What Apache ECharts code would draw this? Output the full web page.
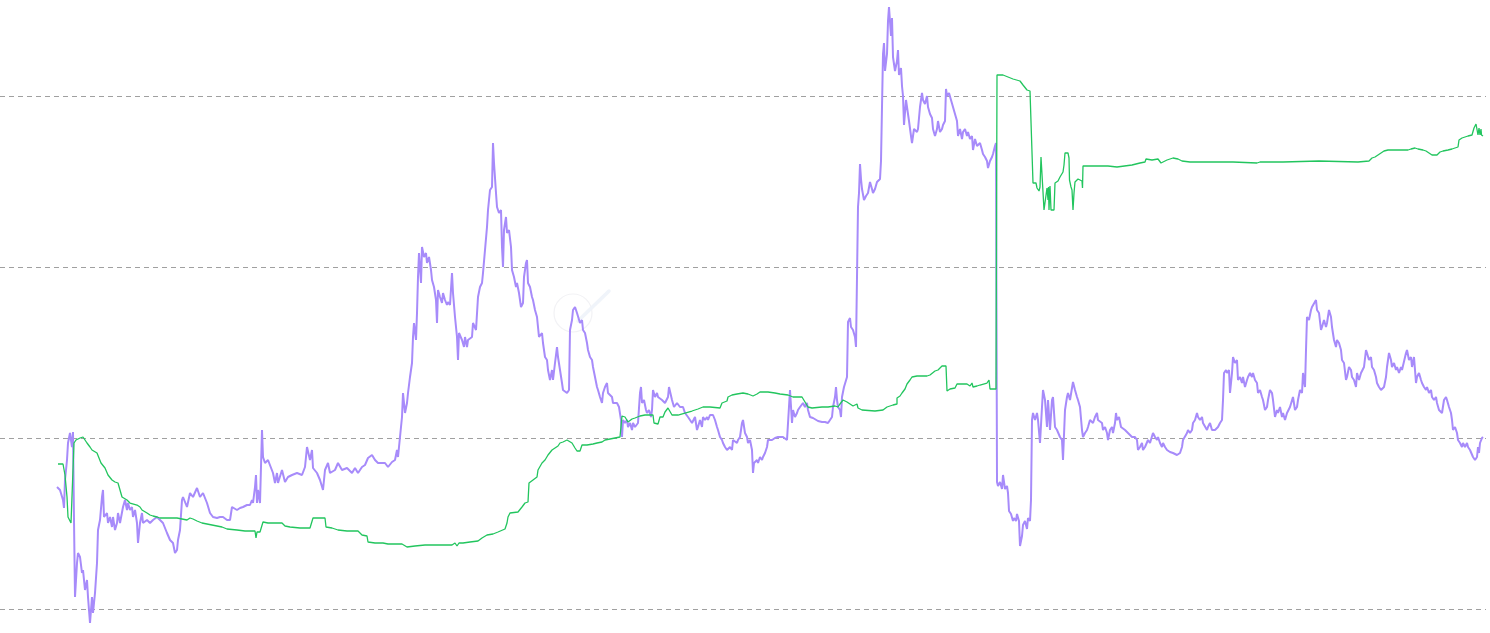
<!DOCTYPE html>
<html>
<head>
<meta charset="utf-8">
<script src="https://cdn.jsdelivr.net/npm/echarts@6/dist/echarts.min.js"></script>
<style>html,body{margin:0;padding:0;background:#fff}#c{width:1490px;height:633px}</style>
</head>
<body>
<div id="c"></div>
<script>
// time index range and y gridline levels
const timeRange = [0, 1486];
const yLevels = [0, 171, 342, 513];

// purple series: [time, value]
const purpleData = [
[57,122],[60,119],[62,121],[63,109],[64,101],[65,129],[67,149],[68,166],[70,176],[72,162],[73,177],[74,89],[75,12],[77,46],[78,56],[80,52],[82,36],[83,39],[85,19],[87,29],[88,12],[90,-14],[92,12],[93,-4],[95,16],[97,46],[98,79],[100,89],[102,112],[103,119],[104,92],[107,96],[108,86],[110,92],[112,82],[113,92],[115,79],[117,86],[118,96],[120,86],[123,102],[125,109],[127,99],[128,106],[130,99],[132,102],[133,92],[135,99],[137,86],[138,66],[140,86],[142,96],[143,86],[147,89],[150,86],[153,89],[157,92],[160,89],[163,86],[167,76],[170,69],[173,66],[175,56],[177,59],[178,69],[180,79],[182,109],[183,112],[187,102],[190,116],[193,112],[197,121],[200,112],[203,116],[207,106],[210,96],[213,92],[217,91],[220,92],[223,92],[227,89],[230,89],[232,102],[233,104],[237,99],[240,101],[243,102],[247,104],[250,104],[252,109],[253,106],[255,122],[256,134],[257,106],[258,119],[260,106],[262,179],[263,152],[265,146],[268,149],[270,149],[273,136],[275,126],[277,136],[278,126],[282,139],[285,127],[288,132],[292,134],[297,136],[302,134],[305,142],[307,162],[308,164],[310,149],[312,159],[313,141],[317,136],[320,129],[323,119],[325,139],[328,146],[330,136],[335,139],[338,146],[342,139],[347,141],[352,136],[355,141],[358,136],[362,142],[365,144],[368,151],[372,154],[375,149],[378,146],[382,146],[385,146],[388,142],[392,147],[395,149],[397,159],[398,152],[400,172],[402,192],[403,216],[405,196],[407,206],[408,216],[410,232],[412,246],[413,272],[414,286],[416,269],[417,296],[418,332],[419,356],[421,326],[422,362],[424,352],[426,356],[427,346],[429,352],[431,339],[432,329],[434,322],[436,309],[437,286],[438,319],[440,312],[442,306],[443,316],[445,309],[447,304],[448,307],[450,304],[452,336],[453,316],[455,292],[457,272],[458,249],[459,276],[462,269],[464,262],[465,272],[467,262],[468,269],[472,272],[473,286],[476,279],[478,312],[480,322],[482,326],[483,336],[485,359],[487,382],[488,399],[490,419],[492,422],[493,466],[494,446],[496,416],[497,402],[499,396],[501,399],[502,362],[503,342],[504,379],[506,392],[507,376],[509,379],[511,362],[512,339],[514,332],[516,322],[517,326],[519,316],[521,302],[523,306],[524,332],[526,346],[527,349],[528,326],[530,322],[532,312],[533,309],[535,299],[537,292],[539,272],[542,276],[543,266],[545,252],[547,249],[548,239],[550,229],[552,239],[553,229],[555,246],[557,262],[558,252],[560,239],[562,226],[563,219],[567,216],[569,219],[570,279],[572,289],[573,299],[575,302],[577,296],[578,296],[580,286],[582,289],[583,279],[585,276],[587,266],[588,259],[590,252],[592,249],[593,242],[595,232],[597,222],[598,219],[600,212],[602,206],[603,216],[605,222],[607,226],[608,216],[610,216],[612,212],[613,206],[617,206],[619,202],[621,189],[622,172],[623,189],[625,186],[627,189],[628,182],[630,186],[632,179],[633,186],[635,182],[637,182],[638,186],[640,216],[641,222],[642,206],[644,209],[646,199],[647,196],[649,199],[651,192],[652,199],[653,219],[655,212],[657,216],[658,212],[660,212],[662,209],[663,209],[665,206],[667,207],[668,212],[669,222],[671,222],[672,209],[674,202],[677,206],[680,202],[683,202],[685,196],[688,192],[690,189],[692,186],[695,192],[697,179],[698,182],[700,189],[702,182],[703,192],[705,189],[707,192],[708,189],[710,194],[712,192],[713,194],[715,189],[717,182],[718,179],[720,172],[722,169],[723,166],[725,162],[727,159],[728,159],[730,162],[732,159],[733,169],[735,167],[737,166],[738,169],[740,172],[742,186],[743,189],[745,176],[747,172],[748,166],[750,169],[752,159],[753,136],[754,146],[757,149],[758,146],[760,152],[762,149],[763,152],[765,156],[767,162],[768,169],[772,169],[775,171],[778,172],[780,174],[783,172],[787,169],[789,167],[790,219],[792,186],[793,199],[795,192],[797,196],[798,199],[800,202],[802,204],[803,206],[805,202],[807,206],[808,199],[810,192],[812,192],[813,191],[815,189],[818,188],[822,187],[825,187],[828,186],[830,189],[832,192],[833,202],[835,212],[836,222],[837,209],[838,202],[840,199],[841,192],[842,212],[844,222],[846,224],[847,232],[848,287],[850,291],[851,282],[853,279],[855,272],[856,262],[857,262],[858,402],[859,416],[860,445],[861,430],[862,420],[864,409],[866,413],[868,416],[870,427],[872,420],[873,416],[875,420],[877,427],[878,427],[880,430],[881,448],[882,502],[883,555],[884,566],[885,538],[887,555],[888,588],[889,602],[891,573],[892,591],[893,552],[895,538],[897,548],[898,559],[899,534],[901,541],[902,523],[903,513],[904,484],[906,509],[907,502],[909,488],[911,473],[912,466],[914,480],[917,477],[918,480],[920,502],[922,516],[923,509],[925,505],[927,513],[928,502],[930,495],[932,491],[933,480],[935,473],[937,480],[938,488],[940,477],[942,480],[943,484],[945,488],[946,520],[947,513],[949,516],[951,509],[953,502],[955,495],[957,488],[958,473],[960,480],[962,470],[963,477],[965,480],[967,473],[968,477],[970,470],[972,473],[973,459],[975,470],[977,463],[978,463],[980,466],[982,459],[983,455],[985,452],[987,448],[988,441],[990,448],[992,452],[993,455],[995,463],[996,466],[997,127],[998,123],[1000,127],[1002,120],[1003,134],[1005,120],[1007,123],[1008,116],[1009,98],[1011,95],[1013,88],[1014,91],[1016,88],[1017,95],[1019,88],[1020,63],[1022,73],[1023,84],[1025,88],[1027,80],[1028,91],[1030,88],[1031,109],[1032,189],[1033,196],[1035,189],[1037,196],[1038,189],[1040,166],[1042,202],[1043,219],[1045,209],[1047,182],[1048,209],[1050,179],[1052,209],[1053,212],[1055,182],[1057,179],[1058,179],[1060,172],[1062,169],[1063,149],[1065,199],[1067,212],[1068,216],[1070,209],[1073,227],[1075,219],[1077,212],[1078,209],[1080,202],[1082,179],[1083,172],[1085,176],[1087,179],[1088,182],[1090,189],[1093,186],[1095,192],[1097,196],[1098,189],[1100,189],[1102,186],[1103,179],[1105,182],[1107,176],[1108,169],[1110,179],[1112,182],[1113,176],[1115,186],[1116,196],[1117,189],[1119,192],[1121,182],[1123,182],[1125,179],[1128,176],[1132,172],[1135,172],[1137,169],[1138,159],[1140,162],[1142,166],[1143,159],[1145,162],[1148,169],[1150,166],[1153,176],[1155,172],[1157,169],[1158,172],[1160,166],[1162,162],[1163,166],[1165,162],[1167,159],[1170,157],[1173,156],[1177,154],[1178,152],[1180,156],[1182,162],[1183,169],[1185,169],[1187,176],[1188,179],[1190,176],[1192,179],[1193,186],[1195,189],[1197,196],[1198,192],[1200,189],[1202,192],[1203,186],[1205,186],[1207,179],[1208,182],[1210,186],[1212,179],[1213,179],[1215,179],[1217,181],[1218,182],[1220,186],[1222,189],[1223,209],[1224,236],[1226,239],[1227,236],[1229,239],[1230,216],[1232,236],[1233,252],[1235,246],[1237,249],[1238,229],[1240,232],[1242,226],[1243,232],[1245,222],[1247,229],[1248,232],[1250,236],[1252,232],[1253,236],[1255,229],[1257,226],[1258,216],[1260,219],[1262,212],[1263,209],[1265,199],[1267,202],[1268,209],[1270,219],[1272,216],[1273,209],[1275,192],[1277,199],[1278,196],[1280,202],[1282,192],[1283,196],[1285,189],[1287,196],[1288,196],[1290,202],[1292,202],[1293,212],[1295,199],[1297,202],[1298,209],[1300,219],[1302,216],[1303,236],[1305,222],[1306,259],[1307,292],[1309,289],[1311,299],[1312,302],[1314,302],[1316,309],[1317,299],[1319,296],[1321,279],[1322,282],[1324,289],[1326,282],[1327,286],[1329,299],[1331,292],[1332,282],[1334,269],[1336,262],[1337,269],[1339,266],[1341,259],[1342,249],[1344,246],[1346,229],[1347,232],[1349,242],[1351,239],[1352,232],[1354,229],[1356,222],[1357,236],[1359,229],[1361,236],[1362,236],[1364,242],[1366,259],[1367,256],[1369,249],[1371,252],[1372,242],[1374,239],[1376,232],[1377,226],[1379,222],[1381,219],[1382,219],[1384,222],[1386,232],[1387,242],[1389,256],[1391,249],[1392,242],[1394,246],[1396,239],[1397,242],[1399,236],[1401,242],[1402,239],[1404,239],[1406,256],[1407,259],[1409,249],[1411,252],[1412,242],[1414,252],[1416,226],[1417,232],[1419,236],[1421,229],[1422,226],[1424,222],[1426,219],[1427,222],[1429,216],[1431,219],[1432,212],[1434,209],[1436,212],[1437,206],[1439,199],[1441,199],[1442,196],[1444,209],[1446,212],[1447,209],[1449,202],[1451,196],[1452,189],[1453,179],[1455,182],[1457,176],[1458,169],[1460,166],[1462,162],[1463,166],[1465,162],[1467,166],[1468,162],[1470,159],[1472,159],[1473,152],[1475,149],[1477,152],[1478,162],[1479,156],[1480,166],[1482,171],[1483,172]
];

// green series: [time, value]
const greenData = [
[58,145],[63,145],[65,134],[67,112],[68,92],[69,92],[71,86],[73,86],[74,166],[76,169],[78,169],[80,171],[82,172],[83,172],[85,169],[87,166],[88,164],[90,162],[92,159],[93,157],[97,156],[99,151],[101,146],[103,144],[105,141],[107,139],[108,134],[110,132],[112,129],[115,127],[118,126],[120,119],[122,112],[123,111],[127,109],[130,106],[137,104],[140,102],[142,99],[143,97],[147,96],[150,94],[153,93],[157,92],[160,91],[167,91],[177,91],[182,90],[187,89],[188,88],[190,91],[193,90],[197,88],[202,86],[207,85],[212,84],[217,83],[222,82],[227,80],[237,79],[245,78],[255,78],[256,71],[257,77],[260,77],[262,79],[263,87],[268,86],[282,86],[285,83],[290,82],[300,81],[310,81],[312,80],[313,91],[325,91],[326,82],[332,81],[338,79],[347,78],[358,78],[362,74],[367,73],[368,67],[375,66],[383,66],[388,65],[402,65],[407,62],[415,63],[425,64],[442,64],[447,64],[452,64],[455,66],[457,63],[459,66],[463,66],[470,67],[478,68],[482,71],[487,74],[493,75],[498,77],[505,80],[507,86],[508,92],[510,96],[518,97],[522,102],[525,106],[528,107],[529,126],[533,129],[537,132],[538,139],[542,146],[545,149],[548,154],[552,159],[555,161],[558,163],[560,166],[563,167],[567,169],[569,170],[572,166],[575,161],[577,158],[580,158],[582,164],[587,164],[593,165],[597,166],[602,167],[605,169],[610,170],[615,171],[620,172],[622,173],[622,193],[625,192],[628,187],[632,190],[635,191],[640,193],[645,194],[653,194],[654,186],[658,185],[660,192],[663,192],[665,197],[668,201],[670,199],[672,194],[678,194],[685,196],[692,198],[698,200],[703,202],[707,202],[708,201],[710,202],[712,200],[720,201],[722,206],[727,208],[728,212],[732,214],[737,215],[743,216],[748,215],[753,213],[757,215],[760,217],[768,217],[775,216],[780,215],[788,214],[793,212],[802,212],[805,207],[808,202],[812,201],[822,202],[828,202],[835,203],[838,202],[840,205],[843,209],[847,207],[850,205],[853,203],[857,205],[858,201],[862,199],[875,198],[877,199],[883,199],[887,202],[890,203],[893,204],[897,205],[897,211],[900,213],[902,216],[905,220],[907,225],[910,229],[912,232],[917,233],[927,233],[930,234],[935,238],[938,239],[942,243],[946,243],[947,218],[950,220],[955,221],[957,225],[967,225],[970,223],[972,226],[973,222],[977,223],[980,224],[987,226],[989,229],[990,220],[996,220],[997,534],[1003,534],[1008,532],[1013,530],[1020,528],[1023,524],[1027,519],[1030,518],[1032,516],[1033,426],[1036,426],[1037,421],[1038,422],[1039,418],[1040,422],[1041,452],[1042,452],[1043,417],[1044,399],[1046,399],[1047,421],[1048,409],[1048.5,422],[1049,399],[1050,423],[1051,399],[1054,399],[1055,426],[1058,428],[1060,432],[1062,434],[1063,437],[1064,444],[1065,456],[1068,456],[1069,451],[1069.5,429],[1071,422],[1072,419],[1073,399],[1074,416],[1075,427],[1077,429],[1078,430],[1080,428],[1082,428],[1082.5,421],[1083,443],[1097,443],[1108,443],[1110,442],[1117,442],[1118,443],[1132,444],[1133,445],[1140,446],[1145,447],[1146,450],[1152,449],[1153,450],[1158,450],[1161,446],[1163,447],[1167,449],[1173,451],[1178,450],[1182,448],[1190,447],[1233,447],[1234,446],[1257,446],[1260,447],[1283,447],[1284,448],[1319,448],[1320,447],[1358,447],[1359,448],[1369,448],[1372,451],[1375,452],[1378,454],[1380,456],[1384,458],[1388,459],[1408,459],[1409,461],[1411,460],[1415,461],[1417,462],[1418,460],[1423,459],[1426,458],[1428,456],[1432,454],[1437,454],[1440,457],[1443,458],[1448,459],[1452,460],[1455,461],[1457,461],[1458,462],[1459,469],[1462,471],[1463,471],[1464,472],[1468,473],[1472,474],[1473,475],[1474,481],[1476,485],[1477,487],[1478,474],[1479,481],[1480,474],[1481,480],[1481.5,474],[1483,473]
];

const chart = echarts.init(document.getElementById('c'), null, {renderer: 'canvas'});
chart.setOption({
  animation: false,
  backgroundColor: '#ffffff',
  grid: {left: 0, right: 4, top: 96, bottom: 24, containLabel: false},
  xAxis: {
    type: 'value', min: timeRange[0], max: timeRange[1],
    axisLine: {show: false}, axisTick: {show: false}, axisLabel: {show: false}, splitLine: {show: false}
  },
  yAxis: {
    type: 'value', min: yLevels[0], max: yLevels[yLevels.length - 1], interval: yLevels[1] - yLevels[0],
    axisLine: {show: false}, axisTick: {show: false}, axisLabel: {show: false},
    splitLine: {show: true, lineStyle: {color: '#a0a0a0', width: 1, type: [5, 4]}}
  },
  graphic: [
    {type: 'circle', shape: {cx: 573, cy: 313, r: 19}, style: {fill: 'none', stroke: '#f2f2f5', lineWidth: 1.2}, z: 0},
    {type: 'line', shape: {x1: 578, y1: 321, x2: 609, y2: 291}, style: {stroke: '#f0f4fa', lineWidth: 3.5, lineCap: 'round'}, z: 0}
  ],
  series: [
    {type: 'line', data: purpleData, showSymbol: false, symbol: 'none', clip: false,
     lineStyle: {color: '#a78bfa', width: 2}, z: 2},
    {type: 'line', data: greenData, showSymbol: false, symbol: 'none', clip: false,
     lineStyle: {color: '#22c55e', width: 1.3}, z: 3}
  ]
});
</script>
</body>
</html>
